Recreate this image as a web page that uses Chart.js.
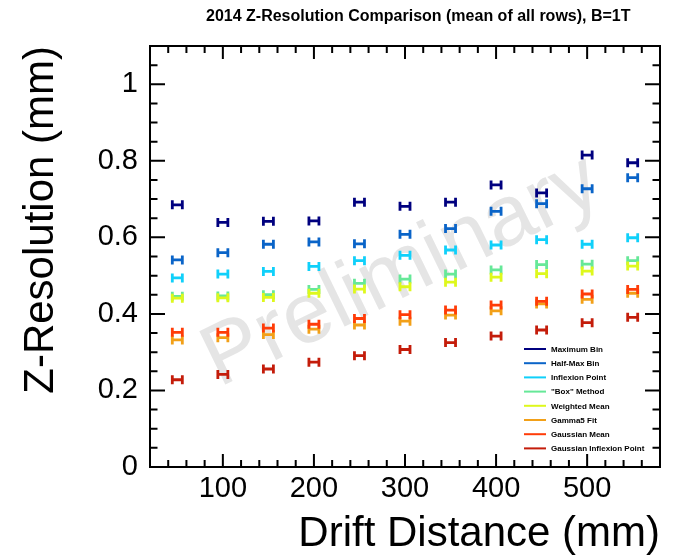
<!DOCTYPE html>
<html>
<head>
<meta charset="utf-8">
<script src="https://cdn.jsdelivr.net/npm/chart.js@4.4.0/dist/chart.umd.min.js"></script>
<style>
  html, body { margin: 0; padding: 0; background: #fff; }
</style>
</head>
<body>
<canvas id="chartZRes" width="673" height="557"></canvas>
<script>
// drift distance bins (mm)
const driftDistance = [50, 100, 150, 200, 250, 300, 350, 400, 450, 500, 550];

// z-resolution (mm) per method
const maximumBin     = [0.685, 0.639, 0.642, 0.643, 0.692, 0.681, 0.692, 0.737, 0.716, 0.815, 0.795];
const halfMaxBin     = [0.541, 0.560, 0.582, 0.588, 0.583, 0.608, 0.623, 0.668, 0.688, 0.727, 0.756];
const inflexionPoint = [0.494, 0.504, 0.511, 0.524, 0.539, 0.553, 0.567, 0.580, 0.594, 0.582, 0.599];
const boxMethod      = [0.446, 0.447, 0.450, 0.464, 0.480, 0.491, 0.504, 0.515, 0.529, 0.530, 0.539];
const weightedMean   = [0.441, 0.442, 0.443, 0.454, 0.465, 0.471, 0.483, 0.496, 0.505, 0.512, 0.525];
const gamma5Fit      = [0.332, 0.338, 0.346, 0.360, 0.371, 0.381, 0.397, 0.408, 0.426, 0.438, 0.454];
const gaussianMean   = [0.352, 0.352, 0.363, 0.373, 0.388, 0.398, 0.410, 0.423, 0.433, 0.452, 0.464];
const gaussInflexion = [0.228, 0.242, 0.256, 0.274, 0.291, 0.307, 0.325, 0.342, 0.358, 0.377, 0.391];

const seriesLabels = ['Maximum Bin', 'Half-Max Bin', 'Inflexion Point', '"Box" Method',
                      'Weighted Mean', 'Gamma5 Fit', 'Gaussian Mean', 'Gaussian Inflexion Point'];
const seriesValues = [maximumBin, halfMaxBin, inflexionPoint, boxMethod,
                      weightedMean, gamma5Fit, gaussianMean, gaussInflexion];
const seriesColors = ['#00007f', '#0a64c8', '#10d0fa', '#66e898',
                      '#def81c', '#f2a018', '#ff3c08', '#c41c0a'];

const xTicks = [100, 200, 300, 400, 500];
const yTicks = [0, 0.2, 0.4, 0.6, 0.8, 1];

const X_ERR = 5.5;   // half bin width (mm)
const FONT = 'Liberation Sans, Arial, Helvetica, sans-serif';

Chart.defaults.font.family = FONT;
Chart.defaults.color = '#000';

// ROOT style frame with inside ticks on all four sides
const rootFrame = {
    id: 'rootFrame',
    afterDraw(chart) {
        const { ctx, chartArea: a, scales: { x, y } } = chart;
        ctx.save();
        ctx.strokeStyle = '#000';
        ctx.lineWidth = 2;
        ctx.strokeRect(a.left, a.top, a.right - a.left, a.bottom - a.top);

        ctx.beginPath();
        for (let v = 20; v <= 580; v += 20) {
            const px = x.getPixelForValue(v);
            const len = v % 100 === 0 ? 13 : 7;
            ctx.moveTo(px, a.bottom); ctx.lineTo(px, a.bottom - len);
            ctx.moveTo(px, a.top); ctx.lineTo(px, a.top + len);
        }
        for (let k = 0; k <= 22; k++) {
            const v = k * 0.05;
            const py = y.getPixelForValue(v);
            const len = k % 4 === 0 ? 15 : 7.5;
            ctx.moveTo(a.left, py); ctx.lineTo(a.left + len, py);
            ctx.moveTo(a.right, py); ctx.lineTo(a.right - len, py);
        }
        ctx.stroke();

        // title
        ctx.fillStyle = '#000';
        ctx.font = 'bold 16px ' + FONT;
        ctx.textAlign = 'left';
        ctx.textBaseline = 'alphabetic';
        ctx.fillText('2014 Z-Resolution Comparison (mean of all rows), B=1T', 206, 21);

        // legend
        ctx.font = 'bold 8px ' + FONT;
        ctx.textBaseline = 'middle';
        seriesLabels.forEach((lab, i) => {
            const ly = 349 + i * 14.2;
            ctx.strokeStyle = seriesColors[i];
            ctx.lineWidth = 2;
            ctx.beginPath();
            ctx.moveTo(524, ly); ctx.lineTo(546, ly);
            ctx.stroke();
            ctx.fillText(lab, 551, ly + 0.5);
        });
        ctx.restore();
    }
};

// Preliminary watermark behind the markers
const watermark = {
    id: 'watermark',
    beforeDatasetsDraw(chart) {
        const { ctx } = chart;
        ctx.save();
        ctx.translate(402, 272);
        ctx.rotate(-26 * Math.PI / 180);
        ctx.font = '86px ' + FONT;
        ctx.fillStyle = '#e5e5e5';
        ctx.textAlign = 'center';
        ctx.textBaseline = 'middle';
        ctx.fillText('Preliminary', 0, 0);
        ctx.restore();
    }
};

// horizontal error bars with end caps ("H" markers)
const errorBars = {
    id: 'errorBars',
    afterDatasetsDraw(chart) {
        const { ctx, scales: { x, y } } = chart;
        ctx.save();
        ctx.lineWidth = 2.8;
        chart.data.datasets.forEach(ds => {
            ctx.strokeStyle = ds.borderColor;
            ds.data.forEach(p => {
                const x0 = x.getPixelForValue(p.x - X_ERR);
                const x1 = x.getPixelForValue(p.x + X_ERR);
                const py = y.getPixelForValue(p.y);
                ctx.beginPath();
                ctx.moveTo(x0, py); ctx.lineTo(x1, py);
                ctx.moveTo(x0, py - 4.5); ctx.lineTo(x0, py + 4.5);
                ctx.moveTo(x1, py - 4.5); ctx.lineTo(x1, py + 4.5);
                ctx.stroke();
            });
        });
        ctx.restore();
    }
};

new Chart(document.getElementById('chartZRes'), {
    type: 'scatter',
    data: {
        datasets: seriesLabels.map((label, i) => ({
            label,
            data: driftDistance.map((d, j) => ({ x: d, y: seriesValues[i][j] })),
            borderColor: seriesColors[i],
            backgroundColor: seriesColors[i],
            pointRadius: 0,
            showLine: false
        }))
    },
    options: {
        responsive: false,
        animation: false,
        layout: { padding: { top: 46, right: 13, left: 0, bottom: 0 } },
        plugins: {
            legend: { display: false },
            tooltip: { enabled: false }
        },
        scales: {
            x: {
                type: 'linear',
                min: 20,
                max: 580,
                grid: { display: false, drawTicks: false },
                border: { display: false },
                afterBuildTicks: s => { s.ticks = xTicks.map(v => ({ value: v })); },
                afterFit: s => { s.height = 90; },
                ticks: { font: { size: 29 }, color: '#000', padding: 5, maxRotation: 0 },
                title: {
                    display: true,
                    text: 'Drift Distance (mm)',
                    align: 'end',
                    font: { size: 42 },
                    color: '#000',
                    padding: { top: 0, bottom: -3 }
                }
            },
            y: {
                min: 0,
                max: 1.1,
                grid: { display: false, drawTicks: false },
                border: { display: false },
                afterBuildTicks: s => { s.ticks = yTicks.map(v => ({ value: v })); },
                afterFit: s => { s.width = 150; },
                ticks: {
                    font: { size: 29 },
                    color: '#000',
                    padding: 12,
                    callback: v => String(+v.toFixed(1))
                },
                title: {
                    display: true,
                    text: 'Z-Resolution (mm)',
                    align: 'end',
                    font: { size: 42 },
                    color: '#000',
                    padding: { top: 16, bottom: 0 }
                }
            }
        }
    },
    plugins: [watermark, errorBars, rootFrame]
});
</script>
</body>
</html>
